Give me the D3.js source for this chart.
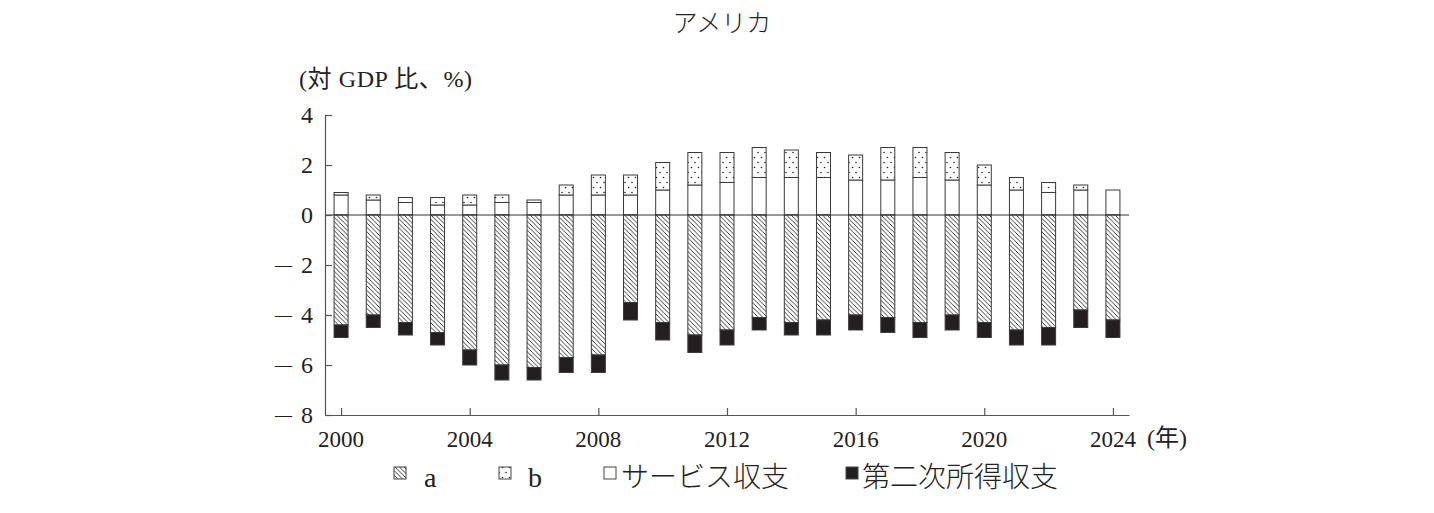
<!DOCTYPE html>
<html><head><meta charset="utf-8">
<script src="https://cdn.jsdelivr.net/npm/d3@7"></script>
<style>
html,body{margin:0;padding:0;background:#fff;}
svg{display:block;}
text{font-family:'Liberation Serif','Noto Sans CJK JP',serif;fill:#222;}
.jp{font-family:'Noto Sans CJK JP',sans-serif;font-weight:300;}
</style></head>
<body>
<script>
// ---- data ----
const years = [2000,2001,2002,2003,2004,2005,2006,2007,2008,2009,2010,2011,2012,2013,2014,2015,2016,2017,2018,2019,2020,2021,2022,2023,2024];
const seriesA = [-4.4,-4.0,-4.3,-4.7,-5.4,-6.0,-6.1,-5.7,-5.6,-3.5,-4.3,-4.8,-4.6,-4.1,-4.3,-4.2,-4.0,-4.1,-4.3,-4.0,-4.3,-4.6,-4.5,-3.8,-4.2];
const seriesB = [0.1,0.2,0.2,0.3,0.4,0.3,0.1,0.4,0.8,0.8,1.1,1.3,1.2,1.2,1.1,1.0,1.0,1.3,1.2,1.1,0.8,0.5,0.4,0.2,0.0];
const services = [0.8,0.6,0.5,0.4,0.4,0.5,0.5,0.8,0.8,0.8,1.0,1.2,1.3,1.5,1.5,1.5,1.4,1.4,1.5,1.4,1.2,1.0,0.9,1.0,1.0];
const secondary = [-0.5,-0.5,-0.5,-0.5,-0.6,-0.6,-0.5,-0.6,-0.7,-0.7,-0.7,-0.7,-0.6,-0.5,-0.5,-0.6,-0.6,-0.6,-0.6,-0.6,-0.6,-0.6,-0.7,-0.7,-0.7];
const yTicks = [4,2,0,-2,-4,-6,-8];
const xTickYears = [2000,2004,2008,2012,2016,2020,2024];
const legendLabels = ["a","b","サービス収支","第二次所得収支"];
const title = "アメリカ";
const yUnit = "(対 GDP 比、%)";
const xUnit = "(年)";

// ---- layout ----
const W = 1434, H = 513;
const svg = d3.select("body").append("svg").attr("width", W).attr("height", H);
const defs = svg.append("defs");

const hatch = defs.append("pattern").attr("id","hatch").attr("patternUnits","userSpaceOnUse")
  .attr("width",4.5).attr("height",4.5);
hatch.append("rect").attr("width",4.5).attr("height",4.5).attr("fill","#fff");
hatch.append("path").attr("d","M-1,-1L5.5,5.5M-1,3.5L1,5.5M3.5,-1L5.5,1")
  .attr("stroke","#222").attr("stroke-width",0.9);

const dots = defs.append("pattern").attr("id","dots").attr("patternUnits","userSpaceOnUse")
  .attr("width",7).attr("height",10);
dots.append("rect").attr("width",7).attr("height",10).attr("fill","#fff");
dots.append("circle").attr("cx",2).attr("cy",2.5).attr("r",0.8).attr("fill","#222");
dots.append("circle").attr("cx",5.5).attr("cy",7.5).attr("r",0.8).attr("fill","#222");

const x = d3.scalePoint().domain(years).range([325,1129]).padding(0.5);
const y = d3.scaleLinear().domain([-8,4]).range([415,115]);
const bw = 14;

const rows = years.map((yr,i)=>({yr, a:seriesA[i], b:seriesB[i], s:services[i], c:secondary[i]}));

const segs = [];
rows.forEach(r=>{
  segs.push({yr:r.yr, y0:0, y1:r.s, fill:"#fff"});
  if (r.b>0) segs.push({yr:r.yr, y0:r.s, y1:r.s+r.b, fill:"url(#dots)"});
  segs.push({yr:r.yr, y0:0, y1:r.a, fill:"url(#hatch)"});
  segs.push({yr:r.yr, y0:r.a, y1:r.a+r.c, fill:"#231f20"});
});

svg.append("g").selectAll("rect").data(segs).join("rect")
  .attr("x", d=>x(d.yr)-bw/2)
  .attr("width", bw)
  .attr("y", d=>y(Math.max(d.y0,d.y1)))
  .attr("height", d=>Math.abs(y(d.y0)-y(d.y1)))
  .attr("fill", d=>d.fill)
  .attr("stroke","#3a3a3a").attr("stroke-width",1);

// zero line
svg.append("line").attr("x1",325).attr("x2",1129).attr("y1",y(0)).attr("y2",y(0))
  .attr("stroke","#333").attr("stroke-width",1.2);

// y axis
const yAx = svg.append("g").attr("transform","translate(325,0)")
  .call(d3.axisRight(y).tickValues(yTicks).tickSize(7).tickSizeOuter(0).tickFormat(""));
yAx.selectAll("path,line").attr("stroke","#555").attr("stroke-width",1.2);

// x axis
const xAx = svg.append("g").attr("transform","translate(0,415)")
  .call(d3.axisBottom(x).tickValues(xTickYears).tickSize(-7).tickSizeOuter(0).tickFormat(""));
xAx.selectAll("path,line").attr("stroke","#555").attr("stroke-width",1.2);

// y tick labels
const yl = svg.append("g").selectAll("text").data(yTicks).join("text")
  .attr("x",313).attr("y",d=>y(d)+8).attr("text-anchor","end").attr("font-size",24);
yl.each(function(d){
  const t = d3.select(this);
  if (d<0){
    t.append("tspan").text("—").attr("font-size",17).attr("dy",-3);
    t.append("tspan").attr("dx",9).attr("dy",3).text(Math.abs(d));
  } else t.text(d);
});

// x tick labels
svg.append("g").selectAll("text").data(xTickYears).join("text")
  .attr("x",d=>x(d)).attr("y",447).attr("text-anchor","middle").attr("font-size",24)
  .attr("textLength",46).attr("lengthAdjust","spacingAndGlyphs")
  .text(d=>d);
svg.append("text").attr("x",1147).attr("y",446).attr("font-size",24).text(xUnit);

// title & unit
svg.append("text").attr("x",722).attr("y",32).attr("text-anchor","middle")
  .attr("font-size",25).attr("class","jp").text(title);
svg.append("text").attr("x",299).attr("y",87).attr("font-size",24)
  .attr("textLength",173).attr("lengthAdjust","spacing").text(yUnit);

// legend
const legFills = ["url(#hatch)","url(#dots)","#fff","#231f20"];
const legX = [394,499,604,846];
const legTX = [424,528,621,862];
const lg = svg.append("g");
legendLabels.forEach((lab,i)=>{
  lg.append("rect").attr("x",legX[i]).attr("y",467).attr("width",12).attr("height",12)
    .attr("fill",legFills[i]).attr("stroke","#444").attr("stroke-width",1);
  lg.append("text").attr("x",legTX[i]).attr("y",487).attr("font-size", i>=2 ? 28 : 28)
    .attr("class", i>=2 ? "jp" : null).text(lab);
});
</script>
</body></html>
